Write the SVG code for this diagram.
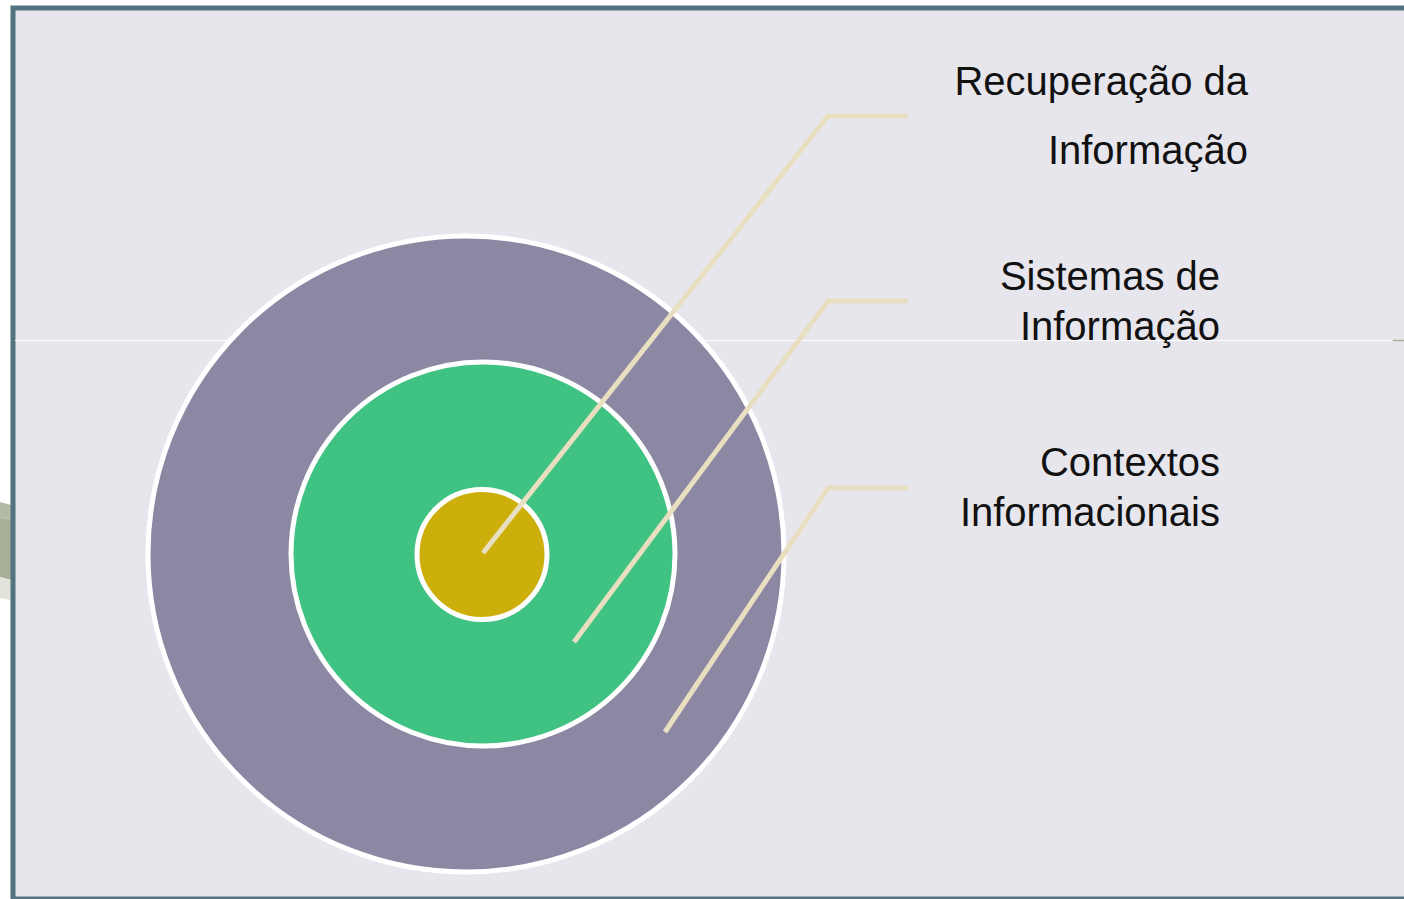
<svg xmlns="http://www.w3.org/2000/svg" width="1404" height="899" viewBox="0 0 1404 899">
<style>
.ring{stroke:#FFFFFF;stroke-width:5}
.lead{fill:none;stroke:#E8DFC1;stroke-width:5;stroke-linecap:butt;stroke-linejoin:miter}
.lbl{font-family:"Liberation Sans",Arial,sans-serif;font-size:40px;fill:#111111;text-anchor:end}
</style>
<rect x="0" y="0" width="1404" height="899" fill="#FFFFFF"/>
<g id="deco">
<polygon points="0,502 11,505 11,520 0,518" fill="#B3BBA6"/>
<polygon points="0,518 11,520 11,580 0,577" fill="#A5B097"/>
<polygon points="0,577 11,580 11,600 0,598" fill="#E2E4DB"/>
</g>
<rect id="panel" x="13" y="8" width="1400" height="891" fill="#E7E6EC" stroke="#52737F" stroke-width="5"/>
<line x1="15" y1="340.5" x2="1392" y2="340.5" stroke="#FFFFFF" stroke-width="1.2"/>
<line x1="1393" y1="340.5" x2="1404" y2="340.5" stroke="#A8B49A" stroke-width="1.5"/>
<g id="outer"><circle class="ring" cx="466" cy="554" r="318" fill="#8C87A3"/></g>
<g id="middle"><circle class="ring" cx="483" cy="554" r="192" fill="#40C283"/></g>
<g id="inner"><circle class="ring" cx="482" cy="554.5" r="65" fill="#CDAF0B"/></g>
<g id="connectors">
<polyline class="lead" points="483,553 828,116 908,116"/>
<polyline class="lead" points="574,642 828,301 908,301"/>
<polyline class="lead" points="665,732 828,488 908,488"/>
</g>
<g id="label-recuperacao">
<text class="lbl" x="1248" y="95">Recuperação da</text>
<text class="lbl" x="1248" y="164">Informação</text>
</g>
<g id="label-sistemas">
<text class="lbl" x="1220" y="290">Sistemas de</text>
<text class="lbl" x="1220" y="340">Informação</text>
</g>
<g id="label-contextos">
<text class="lbl" x="1220" y="476">Contextos</text>
<text class="lbl" x="1220" y="526">Informacionais</text>
</g>
</svg>
